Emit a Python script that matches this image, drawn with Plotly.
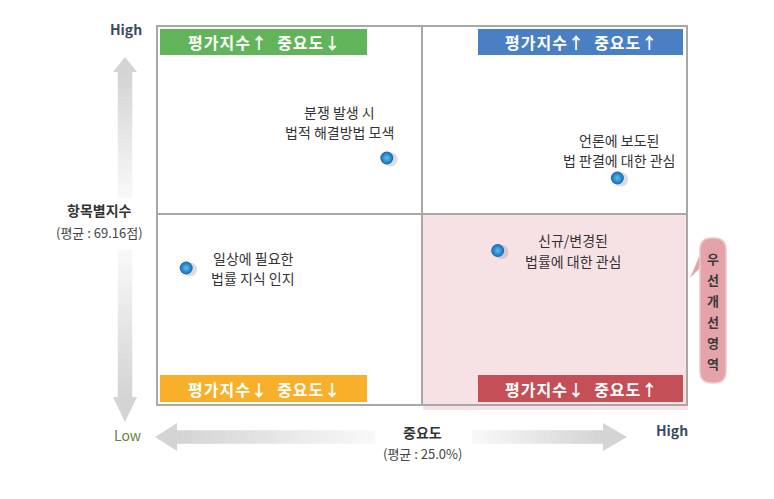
import plotly.graph_objects as go

# ---- data ----
items_line1 = ["분쟁 발생 시", "언론에 보도된", "신규/변경된", "일상에 필요한"]
items_line2 = ["법적 해결방법 모색", "법 판결에 대한 관심", "법률에 대한 관심", "법률 지식 인지"]
importance = [23.0, 36.1, 29.3, 11.6]      # 중요도 (%)
index_score = [71.4, 70.6, 67.7, 67.0]     # 항목별지수 (점)
mean_importance = 25.0
mean_index = 69.16
quad_labels = ["평가지수↑  중요도↓", "평가지수↑  중요도↑", "평가지수↓  중요도↓", "평가지수↓  중요도↑"]
callout_chars = ["우", "선", "개", "선", "영", "역"]

W, H = 774, 499
FONT = "Noto Sans CJK KR"


def px(x):
    return x / W


def py(y):
    return 1 - y / H


XR = [10, 40]
YR = [61.56, 76.64]

fig = go.Figure()

# shadow under markers
fig.add_trace(go.Scatter(
    x=[v + 0.22 for v in importance], y=[v - 0.06 for v in index_score],
    mode="markers", hoverinfo="skip",
    marker=dict(size=14, color="rgba(120,120,120,0.25)", line=dict(width=0)),
    showlegend=False))
fig.add_trace(go.Scatter(
    x=importance, y=index_score, mode="markers",
    marker=dict(size=13, color="#1168b0",
                gradient=dict(type="radial", color="#5ec0f2"),
                line=dict(width=0)),
    showlegend=False))

shapes = []
annotations = []

# pink priority quadrant
shapes.append(dict(type="rect", xref="paper", yref="paper",
                   x0=px(423), x1=px(688), y0=py(410), y1=py(215),
                   fillcolor="#f6e2e5", line=dict(width=0), layer="below"))

# mid lines
shapes.append(dict(type="line", xref="x", yref="y", x0=mean_importance, x1=mean_importance,
                   y0=YR[0], y1=YR[1], line=dict(color="#a8a8a8", width=2)))
shapes.append(dict(type="line", xref="x", yref="y", x0=XR[0], x1=XR[1],
                   y0=mean_index, y1=mean_index, line=dict(color="#a8a8a8", width=2)))

# quadrant label boxes
quad_boxes = [
    (160, 367, 29, 55, "#62b45a"),
    (478, 683, 29, 55, "#4b7fc3"),
    (160, 367, 375, 402, "#f8b02a"),
    (478, 683, 375, 402, "#c44f56"),
]


def txt(x, y, t, size, color, weight="normal"):
    annotations.append(dict(xref="paper", yref="paper", x=px(x), y=py(y), text=t,
                            showarrow=False, xanchor="center", yanchor="middle",
                            font=dict(family=FONT, size=size, color=color, weight=weight)))


def spaced(s):
    return "\u200a".join(list(s))


for (x0, x1, y0, y1, col), lab in zip(quad_boxes, quad_labels):
    shapes.append(dict(type="rect", xref="paper", yref="paper",
                       x0=px(x0), x1=px(x1), y0=py(y1), y1=py(y0),
                       fillcolor=col, line=dict(width=0)))
    txt((x0 + x1) / 2, (y0 + y1) / 2, spaced(lab), 16, "white", "bold")


def lerp_col(c0, c1, t):
    return "rgb(%d,%d,%d)" % tuple(int(a + (b - a) * t) for a, b in zip(c0, c1))


LIGHT = (250, 250, 250)
DARK = (212, 212, 212)


def v_arrow(xc, y_far, y_head, y_tip, n=30):
    for i in range(n):
        ya = y_far + (y_head - y_far) * i / n
        yb = y_far + (y_head - y_far) * (i + 1) / n
        shapes.append(dict(type="rect", xref="paper", yref="paper",
                           x0=px(xc - 7), x1=px(xc + 7), y0=py(max(ya, yb)), y1=py(min(ya, yb)),
                           fillcolor=lerp_col(LIGHT, DARK, (i + 1) / n),
                           line=dict(width=0.5, color=lerp_col(LIGHT, DARK, (i + 1) / n))))
    path = "M %f %f L %f %f L %f %f Z" % (px(xc - 12), py(y_head), px(xc + 12), py(y_head), px(xc), py(y_tip))
    shapes.append(dict(type="path", xref="paper", yref="paper", path=path,
                       fillcolor=lerp_col(LIGHT, DARK, 1), line=dict(width=0)))


def h_arrow(yc, x_far, x_head, x_tip, n=36):
    for i in range(n):
        xa = x_far + (x_head - x_far) * i / n
        xb = x_far + (x_head - x_far) * (i + 1) / n
        c = lerp_col(LIGHT, DARK, (i + 1) / n)
        shapes.append(dict(type="rect", xref="paper", yref="paper",
                           x0=px(min(xa, xb)), x1=px(max(xa, xb)), y0=py(yc + 6.5), y1=py(yc - 6.5),
                           fillcolor=c, line=dict(width=0.5, color=c)))
    path = "M %f %f L %f %f L %f %f Z" % (px(x_head), py(yc - 14), px(x_head), py(yc + 14), px(x_tip), py(yc))
    shapes.append(dict(type="path", xref="paper", yref="paper", path=path,
                       fillcolor=lerp_col(LIGHT, DARK, 1), line=dict(width=0)))


v_arrow(125, 198, 72, 57)
v_arrow(125, 250, 397, 422)
h_arrow(437, 375, 177, 155)
h_arrow(437, 472, 603, 627)

# callout (rounded)
shapes.append(dict(type="path", xref="paper", yref="paper",
                   path="M %f %f L %f %f L %f %f Z" % (px(702), py(250), px(702), py(266), px(690), py(278)),
                   fillcolor="#e3a3a8", line=dict(width=0)))
cx0, cx1, cy0, cy1, r = 700, 726, 238, 383, 12
callout_path = (
    "M %f %f L %f %f Q %f %f %f %f L %f %f Q %f %f %f %f L %f %f Q %f %f %f %f L %f %f Q %f %f %f %f Z" % (
        px(cx0 + r), py(cy0), px(cx1 - r), py(cy0),
        px(cx1), py(cy0), px(cx1), py(cy0 + r),
        px(cx1), py(cy1 - r),
        px(cx1), py(cy1), px(cx1 - r), py(cy1),
        px(cx0 + r), py(cy1),
        px(cx0), py(cy1), px(cx0), py(cy1 - r),
        px(cx0), py(cy0 + r),
        px(cx0), py(cy0), px(cx0 + r), py(cy0)))
shapes.append(dict(type="path", xref="paper", yref="paper", path=callout_path,
                   fillcolor="#e3a3a8", line=dict(color="#efc6c9", width=1.5)))
for i, ch in enumerate(callout_chars):
    txt(713, 258 + i * 21, ch, 13, "#3a3a3a", "bold")

# point labels
label_off = [(-47, 36), (2, 28), (75, 0), (67, 0)]
for xv, yv, l1, l2, (dx, dy) in zip(importance, index_score, items_line1, items_line2, label_off):
    for line, sh in ((l1, 10), (l2, -10)):
        annotations.append(dict(x=xv, y=yv, xref="x", yref="y", text=line, showarrow=False,
                                xanchor="center", yanchor="middle",
                                xshift=dx, yshift=dy + sh,
                                font=dict(family=FONT, size=14, color="#333333")))

# axis texts
txt(126, 29, "High", 14, "#3c4a5e", "bold")
txt(100, 210, "항목별지수", 14, "#333333", "bold")
txt(100, 232, "(평균 : 69.16점)", 13, "#444444")
txt(127, 435, "Low", 14, "#5f8438")
txt(422, 432, "중요도", 14, "#333333", "bold")
txt(422, 453, "(평균 : 25.0%)", 13, "#444444")
txt(672, 430, "High", 14, "#3c4a5e", "bold")

fig.update_layout(
    width=W, height=H,
    margin=dict(l=0, r=0, t=0, b=0),
    paper_bgcolor="white", plot_bgcolor="rgba(0,0,0,0)",
    shapes=shapes, annotations=annotations,
    xaxis=dict(domain=[px(158), px(686)], range=XR, showgrid=False, zeroline=False,
               showticklabels=False, ticks="", showline=True, mirror=True,
               linecolor="#a8a8a8", linewidth=2, fixedrange=True),
    yaxis=dict(domain=[py(404), py(27)], range=YR, showgrid=False, zeroline=False,
               showticklabels=False, ticks="", showline=True, mirror=True,
               linecolor="#a8a8a8", linewidth=2, fixedrange=True),
    showlegend=False,
)

fig.write_html("out.html")
